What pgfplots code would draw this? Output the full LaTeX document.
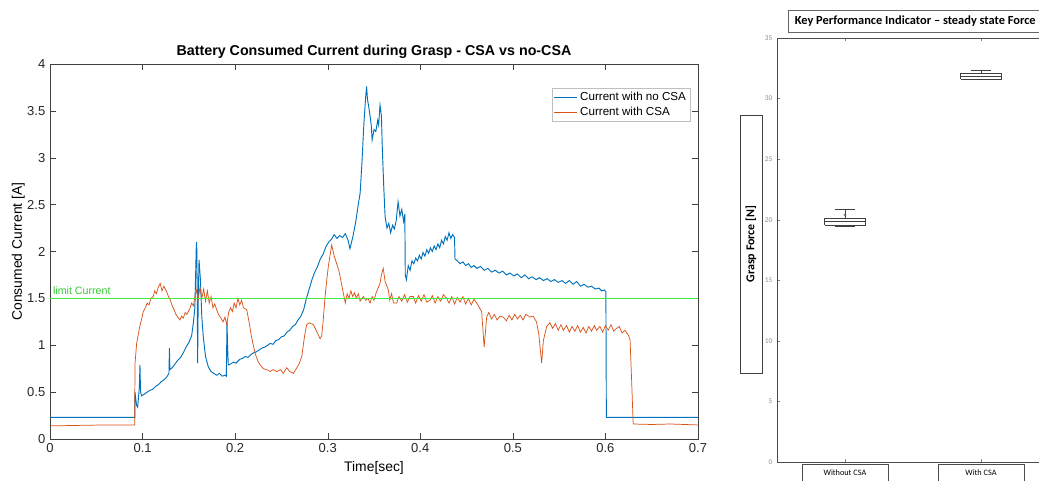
\documentclass[border=0pt]{standalone}
\usepackage{fontspec}
\setmainfont{Liberation Sans}
\newfontfamily\calfont{Carlito}
\usepackage{pgfplots}
\pgfplotsset{compat=1.18}

\definecolor{mblue}{rgb}{0,0.447,0.741}
\definecolor{mred}{rgb}{0.85,0.325,0.098}
\definecolor{limgreen}{rgb}{0.25,0.93,0.25}

\begin{document}
\begin{tikzpicture}
\useasboundingbox (0,0) rectangle (779.25pt,360pt);
\clip (0,0) rectangle (779.25pt,360pt);

% left panel: current traces
\begin{axis}[
    at={(37.5pt,30.75pt)}, anchor=south west,
    scale only axis, width=486pt, height=281.25pt,
    xmin=0, xmax=0.7, ymin=0, ymax=4,
    xtick={0,0.1,...,0.7}, ytick={0,0.5,...,4},
    /pgf/number format/assume math mode=true,
    tick label style={font=\fontsize{9.75}{11}\selectfont, text=black!85},
    axis line style={black!75},
    tick style={black!75},
    every axis title shift=0pt,
    title={Battery Consumed Current during Grasp - CSA vs no-CSA},
    title style={at={(axis description cs:0.5,1.032)}, anchor=center, yshift=0pt,
        font=\fontsize{10.7}{12}\selectfont\bfseries},
    xlabel={Time[sec]},
    xlabel style={at={(axis description cs:0.5,-0.077)}, anchor=center, font=\fontsize{10.4}{12}\selectfont},
    ylabel={Consumed Current [A]},
    ylabel style={at={(axis description cs:-0.049,0.5)}, anchor=center, font=\fontsize{10.4}{12}\selectfont},
    legend cell align=left,
    legend style={at={(axis description cs:0.988,0.936)}, anchor=north east, draw=black!25,
        font=\fontsize{8.7}{10}\selectfont, inner sep=1pt, row sep=-1pt},
]
\addplot[mblue, line width=0.7pt] coordinates {
(0,0.23) (0.0917,0.23) (0.0918,0.50) (0.0935,0.36) (0.0947,0.34) (0.0965,0.55) (0.0972,0.79)
(0.0978,0.50) (0.099,0.46) (0.102,0.48) (0.105,0.50) (0.108,0.52) (0.111,0.53) (0.114,0.56)
(0.117,0.58) (0.120,0.61) (0.123,0.63) (0.126,0.66) (0.1285,0.70) (0.129,0.97) (0.1295,0.74)
(0.132,0.76) (0.135,0.80) (0.138,0.84) (0.141,0.87) (0.144,0.92) (0.147,0.98) (0.150,1.03)
(0.153,1.10) (0.155,1.25) (0.1565,1.40) (0.158,2.05) (0.1585,2.10) (0.159,1.60) (0.1595,0.81)
(0.160,1.40) (0.161,1.91) (0.1625,1.70) (0.164,1.30) (0.1656,1.09) (0.168,0.88) (0.171,0.77)
(0.174,0.72) (0.177,0.70) (0.180,0.68) (0.183,0.70) (0.186,0.67) (0.189,0.68) (0.1905,0.67)
(0.1912,1.25) (0.1918,1.00) (0.1926,0.79) (0.195,0.80) (0.198,0.82) (0.201,0.81) (0.205,0.85)
(0.208,0.86) (0.211,0.88) (0.214,0.87) (0.217,0.90) (0.220,0.92) (0.223,0.93) (0.226,0.95)
(0.229,0.97) (0.232,0.98) (0.235,1.00) (0.238,1.02) (0.241,1.01) (0.244,1.05) (0.247,1.06)
(0.250,1.09) (0.253,1.10) (0.256,1.14) (0.259,1.16) (0.262,1.20) (0.265,1.22) (0.268,1.27)
(0.271,1.31) (0.274,1.38) (0.277,1.50) (0.280,1.60) (0.283,1.70) (0.286,1.78) (0.289,1.84)
(0.292,1.92) (0.295,1.97) (0.298,2.05) (0.301,2.10) (0.304,2.13) (0.307,2.18) (0.310,2.14)
(0.313,2.17) (0.316,2.15) (0.319,2.19) (0.322,2.12) (0.324,2.03) (0.327,2.15) (0.330,2.30)
(0.333,2.50) (0.335,2.62) (0.337,2.95) (0.339,3.35) (0.341,3.65) (0.342,3.76) (0.343,3.62)
(0.345,3.50) (0.347,3.35) (0.348,3.19) (0.350,3.30) (0.352,3.28) (0.354,3.40) (0.355,3.35)
(0.3565,3.56) (0.358,3.45) (0.359,3.10) (0.3605,2.70) (0.362,2.37) (0.364,2.25) (0.366,2.30)
(0.368,2.20) (0.370,2.28) (0.372,2.24) (0.374,2.33) (0.376,2.53) (0.378,2.38) (0.380,2.45)
(0.382,2.32) (0.3833,2.40) (0.3838,1.75) (0.385,1.70) (0.387,1.85) (0.389,1.80) (0.391,1.90)
(0.393,1.87) (0.395,1.93) (0.397,1.90) (0.399,1.96) (0.401,1.92) (0.403,1.99) (0.405,1.95)
(0.407,2.02) (0.409,1.98) (0.411,2.04) (0.413,2.00) (0.415,2.06) (0.417,2.02) (0.419,2.08)
(0.421,2.04) (0.423,2.12) (0.425,2.08) (0.427,2.16) (0.429,2.12) (0.431,2.20) (0.433,2.14)
(0.435,2.18) (0.437,2.15) (0.4375,1.92) (0.440,1.90) (0.443,1.87) (0.446,1.89) (0.449,1.85)
(0.452,1.87) (0.455,1.83) (0.458,1.85) (0.461,1.82) (0.465,1.84) (0.469,1.80) (0.473,1.82)
(0.477,1.78) (0.481,1.80) (0.485,1.77) (0.489,1.79) (0.493,1.75) (0.497,1.77) (0.501,1.74)
(0.505,1.76) (0.509,1.72) (0.513,1.75) (0.517,1.71) (0.521,1.73) (0.525,1.70) (0.529,1.72)
(0.533,1.69) (0.537,1.71) (0.541,1.68) (0.545,1.70) (0.549,1.67) (0.553,1.69) (0.557,1.66)
(0.561,1.69) (0.565,1.65) (0.569,1.68) (0.573,1.63) (0.577,1.65) (0.581,1.62) (0.585,1.63)
(0.589,1.60) (0.593,1.61) (0.596,1.58) (0.599,1.59) (0.6005,1.57) (0.601,0.23) (0.7,0.23)
};
\addlegendentry{Current with no CSA}
\addplot[mred, line width=0.55pt] coordinates {
(0,0.14) (0.03,0.145) (0.06,0.15) (0.0915,0.15) (0.0918,0.80) (0.0936,1.02) (0.097,1.20)
(0.099,1.28) (0.1008,1.36) (0.103,1.40) (0.105,1.45) (0.107,1.43) (0.109,1.50) (0.1116,1.52)
(0.113,1.58) (0.115,1.55) (0.117,1.62) (0.119,1.66) (0.121,1.58) (0.123,1.63) (0.126,1.57)
(0.128,1.52) (0.130,1.48) (0.132,1.42) (0.134,1.38) (0.136,1.33) (0.138,1.30) (0.1404,1.27)
(0.142,1.31) (0.144,1.29) (0.146,1.35) (0.148,1.33) (0.151,1.39) (0.153,1.45) (0.155,1.42)
(0.157,1.55) (0.1585,1.59) (0.160,1.48) (0.162,1.62) (0.164,1.50) (0.166,1.60) (0.168,1.47)
(0.170,1.58) (0.172,1.45) (0.174,1.52) (0.176,1.40) (0.178,1.44) (0.180,1.38) (0.182,1.33)
(0.184,1.30) (0.187,1.25) (0.189,1.30) (0.191,1.22) (0.193,1.35) (0.195,1.40) (0.197,1.36)
(0.199,1.45) (0.201,1.40) (0.203,1.50) (0.205,1.43) (0.207,1.48) (0.209,1.40) (0.2125,1.38)
(0.215,1.25) (0.2175,1.10) (0.2196,1.00) (0.222,0.90) (0.225,0.82) (0.228,0.78) (0.2305,0.75)
(0.234,0.74) (0.238,0.72) (0.241,0.74) (0.245,0.72) (0.249,0.74) (0.252,0.70) (0.2557,0.76)
(0.259,0.72) (0.263,0.70) (0.266,0.75) (0.269,0.80) (0.272,0.88) (0.275,1.10) (0.2773,1.22)
(0.280,1.24) (0.2845,1.22) (0.288,1.15) (0.2917,1.07) (0.2935,1.10) (0.295,1.25) (0.297,1.50)
(0.299,1.70) (0.3008,1.85) (0.3043,2.07) (0.307,1.95) (0.3097,1.87) (0.312,1.80) (0.314,1.70)
(0.317,1.55) (0.319,1.45) (0.321,1.55) (0.323,1.50) (0.325,1.58) (0.327,1.52) (0.329,1.56)
(0.331,1.50) (0.333,1.55) (0.335,1.47) (0.3385,1.52) (0.341,1.48) (0.3435,1.50) (0.3457,1.45)
(0.348,1.52) (0.350,1.48) (0.352,1.55) (0.354,1.60) (0.3565,1.66) (0.358,1.75) (0.360,1.82)
(0.362,1.68) (0.3655,1.59) (0.367,1.48) (0.369,1.55) (0.371,1.45) (0.3745,1.45) (0.377,1.52)
(0.380,1.47) (0.383,1.54) (0.386,1.46) (0.389,1.52) (0.3925,1.52) (0.395,1.45) (0.398,1.53)
(0.401,1.47) (0.404,1.54) (0.407,1.46) (0.4105,1.48) (0.413,1.53) (0.416,1.45) (0.419,1.52)
(0.422,1.47) (0.425,1.54) (0.4285,1.50) (0.431,1.45) (0.434,1.52) (0.437,1.44) (0.440,1.51)
(0.443,1.46) (0.446,1.52) (0.449,1.44) (0.452,1.50) (0.455,1.43) (0.458,1.49) (0.461,1.45)
(0.4663,1.36) (0.469,0.98) (0.4717,1.30) (0.474,1.35) (0.477,1.28) (0.480,1.33) (0.483,1.27)
(0.486,1.31) (0.4897,1.30) (0.493,1.26) (0.496,1.32) (0.499,1.27) (0.502,1.33) (0.505,1.28)
(0.508,1.32) (0.511,1.27) (0.514,1.33) (0.5185,1.30) (0.522,1.31) (0.5255,1.25) (0.528,1.12)
(0.5311,0.81) (0.533,1.05) (0.5365,1.20) (0.540,1.24) (0.543,1.18) (0.546,1.23) (0.549,1.16)
(0.552,1.22) (0.5545,1.16) (0.558,1.21) (0.561,1.14) (0.564,1.20) (0.567,1.15) (0.570,1.21)
(0.573,1.14) (0.576,1.19) (0.579,1.13) (0.582,1.20) (0.585,1.15) (0.588,1.21) (0.5905,1.16)
(0.594,1.20) (0.597,1.14) (0.600,1.21) (0.603,1.16) (0.606,1.22) (0.609,1.15) (0.612,1.18)
(0.615,1.20) (0.618,1.13) (0.621,1.16) (0.6247,1.11) (0.6266,1.06) (0.6284,0.60) (0.630,0.16)
(0.65,0.155) (0.67,0.16) (0.7,0.15)
};
\addlegendentry{Current with CSA}
\addplot[limgreen, line width=0.8pt, forget plot] coordinates {(0,1.5) (0.7,1.5)};
\node[anchor=west, text=limgreen!85!black, font=\fontsize{8}{9}\selectfont, inner sep=0pt]
    at (axis cs:0.003,1.585) {limit Current};
\end{axis}

% right panel: KPI box plot (cut at right edge)
\begin{axis}[
    at={(582.75pt,13.5pt)}, anchor=south west,
    scale only axis, width=204pt, height=318pt,
    xmin=0.5, xmax=2.5, ymin=0, ymax=35,
    xtick={1,2}, xticklabels={Without CSA, With CSA},
    ytick={0,5,...,35},
    axis line style={black!70, line width=0.5pt},
    tick style={black!50, line width=0.3pt},
    major tick length=2pt,
    yticklabel style={font=\calfont\fontsize{5.5}{6}\selectfont, text=black!45},
    /pgf/number format/assume math mode=true,
    xticklabel style={font=\calfont\fontsize{6.2}{7}\selectfont, draw=black!70, line width=0.4pt,
        minimum width=64.5pt, minimum height=13pt, anchor=north, yshift=-1.5pt},
    ylabel={Grasp Force [N]},
    ylabel style={at={(axis description cs:-0.0956,0.514)}, anchor=center,
        font=\calfont\fontsize{9}{10}\selectfont\bfseries, draw=black!75, line width=0.5pt,
        minimum width=193.5pt, minimum height=16.5pt},
    every axis title shift=0pt,
    title={Key Performance Indicator – steady state Force},
    title style={at={(axis description cs:0.04,1.039)}, anchor=west, yshift=0pt,
        font=\calfont\fontsize{9.3}{10}\selectfont\bfseries, draw=black!60, line width=0.5pt,
        minimum height=17pt, inner xsep=5pt},
    bx/.style={black!75, line width=0.45pt, mark=none},
]
% Without CSA: box, median, whiskers, caps
\addplot[bx] coordinates {(0.85,19.55) (1.15,19.55) (1.15,20.12) (0.85,20.12) (0.85,19.55)};
\addplot[bx] coordinates {(0.85,19.9) (1.15,19.9)};
\addplot[bx] coordinates {(1,20.12) (1,20.86)};
\addplot[bx] coordinates {(0.925,20.86) (1.075,20.86)};
\addplot[bx] coordinates {(1,19.55) (1,19.45)};
\addplot[bx] coordinates {(0.925,19.45) (1.075,19.45)};
\addplot[only marks, mark=o, mark size=0.9pt, black!60] coordinates {(1,20.4)};
% With CSA
\addplot[bx] coordinates {(1.85,31.62) (2.15,31.62) (2.15,32.1) (1.85,32.1) (1.85,31.62)};
\addplot[bx] coordinates {(1.85,31.86) (2.15,31.86)};
\addplot[bx] coordinates {(2,32.1) (2,32.3)};
\addplot[bx] coordinates {(1.925,32.3) (2.075,32.3)};
\addplot[bx] coordinates {(2,31.62) (2,31.55)};
\addplot[bx] coordinates {(1.925,31.55) (2.075,31.55)};
\end{axis}
\end{tikzpicture}
\end{document}
